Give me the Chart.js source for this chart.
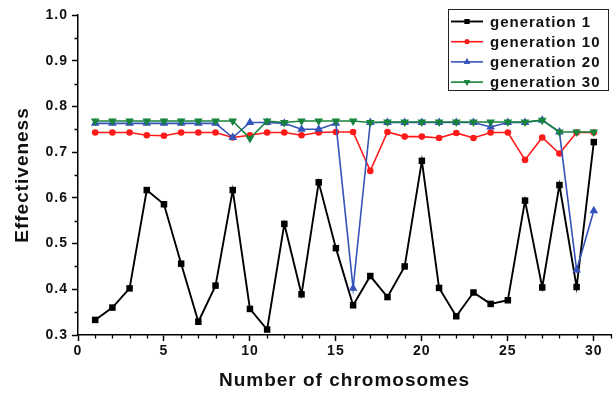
<!DOCTYPE html>
<html>
<head>
<meta charset="utf-8">
<title>Effectiveness vs number of chromosomes</title>
<script src="https://cdn.jsdelivr.net/npm/chart.js@4.4.1/dist/chart.umd.min.js"></script>
<style>
    html, body { margin: 0; padding: 0; background: #fff; }
    #wrap { position: relative; width: 616px; height: 394px; }
</style>
</head>
<body>
<div id="wrap"><canvas id="chart" width="616" height="394"></canvas></div>
<script>
/* ─── data ──────────────────────────────────────────────────── */
const chromosomes = [1, 2, 3, 4, 5, 6, 7, 8, 9, 10, 11, 12, 13, 14, 15,
                     16, 17, 18, 19, 20, 21, 22, 23, 24, 25, 26, 27, 28, 29, 30];

const gen1  = [0.333, 0.360, 0.402, 0.617, 0.586, 0.456, 0.329, 0.408, 0.617, 0.357,
               0.312, 0.543, 0.389, 0.634, 0.490, 0.365, 0.429, 0.383, 0.450, 0.681,
               0.403, 0.341, 0.393, 0.368, 0.376, 0.594, 0.404, 0.628, 0.405, 0.722];
const gen10 = [0.743, 0.743, 0.743, 0.737, 0.736, 0.743, 0.743, 0.743, 0.732, 0.737,
               0.743, 0.743, 0.737, 0.743, 0.744, 0.744, 0.659, 0.744, 0.734, 0.734,
               0.731, 0.742, 0.731, 0.743, 0.743, 0.683, 0.732, 0.697, 0.743, 0.743];
const gen20 = [0.763, 0.763, 0.763, 0.763, 0.763, 0.763, 0.763, 0.763, 0.732, 0.765,
               0.765, 0.763, 0.750, 0.750, 0.763, 0.402, 0.765, 0.765, 0.765, 0.765,
               0.765, 0.765, 0.765, 0.755, 0.765, 0.765, 0.770, 0.744, 0.442, 0.572];
const gen30 = [0.768, 0.768, 0.768, 0.768, 0.768, 0.768, 0.768, 0.768, 0.768, 0.730,
               0.768, 0.765, 0.768, 0.768, 0.768, 0.768, 0.765, 0.766, 0.766, 0.766,
               0.766, 0.766, 0.766, 0.766, 0.766, 0.766, 0.770, 0.744, 0.744, 0.744];

const seriesNames = ['generation 1', 'generation 10', 'generation 20', 'generation 30'];

const xTicks = [0, 5, 10, 15, 20, 25, 30];
const yTicks = [0.3, 0.4, 0.5, 0.6, 0.7, 0.8, 0.9, 1.0];

/* ── styles ──────────────────────────────────────────────────── */
const FONT   = '"Liberation Sans", Arial, sans-serif';
const STYLES = [
    { color: '#000000', point: 'rect',     radius: 4.6, rotation: 0,   width: 1.9 },
    { color: '#ff1a1a', point: 'circle',   radius: 3.3, rotation: 0,   width: 1.6 },
    { color: '#3553b8', point: 'triangle', radius: 5,   rotation: 0,   width: 1.6 },
    { color: '#17833c', point: 'triangle', radius: 5,   rotation: 180, width: 1.6 },
];

const toPoints = (ys) => chromosomes.map((c, i) => ({ x: c, y: ys[i] }));

/* ── plugins ─────────────────────────────────────────────────── */
/* Origin-style text is slightly spaced out */
const spacingPlugin = {
    id: 'spacing',
    beforeUpdate(chart) { chart.ctx.letterSpacing = '1px'; },
    beforeDraw(chart)   { chart.ctx.letterSpacing = '1px'; },
};

/* minor ticks: every integer on x, every 0.05 on y */
const minorTicks = {
    id: 'minorTicks',
    afterDraw(chart) {
        const { ctx, scales: { x, y }, chartArea } = chart;
        ctx.save();
        ctx.strokeStyle = '#000';
        ctx.lineWidth = 1.3;
        ctx.beginPath();
        for (let v = x.min; v <= x.max; v++) {
            if (v % 5 === 0) continue;
            const px = Math.round(x.getPixelForValue(v)) + 0.5;
            ctx.moveTo(px, chartArea.bottom);
            ctx.lineTo(px, chartArea.bottom + 3.5);
        }
        for (let i = 0; i < yTicks.length - 1; i++) {
            const py = Math.round(y.getPixelForValue((yTicks[i] + yTicks[i + 1]) / 2)) + 0.5;
            ctx.moveTo(chartArea.left, py);
            ctx.lineTo(chartArea.left - 3.5, py);
        }
        ctx.stroke();
        ctx.restore();
    },
};

/* boxed legend in the top-right corner */
const boxLegend = {
    id: 'boxLegend',
    afterDraw(chart) {
        const ctx = chart.ctx;
        const box = { x: 448.5, y: 9.5, w: 160, h: 81 };
        ctx.save();
        ctx.letterSpacing = '1px';
        ctx.fillStyle = '#fff';
        ctx.fillRect(box.x, box.y, box.w, box.h);
        ctx.strokeStyle = '#222';
        ctx.lineWidth = 1;
        ctx.strokeRect(box.x, box.y, box.w, box.h);
        seriesNames.forEach((name, i) => {
            const s  = STYLES[i];
            const cy = 21.5 + i * 20.2;
            ctx.strokeStyle = s.color;
            ctx.lineWidth = s.width;
            ctx.beginPath();
            ctx.moveTo(451, cy);
            ctx.lineTo(483, cy);
            ctx.stroke();
            ctx.fillStyle = s.color;
            Chart.helpers.drawPoint(ctx, {
                pointStyle: s.point, radius: s.radius * 0.75, rotation: s.rotation, borderWidth: 0,
            }, 467, cy);
            ctx.fill();
            ctx.fillStyle = '#111';
            ctx.font = `bold 15px ${FONT}`;
            ctx.textAlign = 'left';
            ctx.textBaseline = 'middle';
            ctx.fillText(name, 490, cy + 1);
        });
        ctx.restore();
    },
};

/* ── chart ───────────────────────────────────────────────────── */
const datasets = [gen1, gen10, gen20, gen30].map((ys, i) => ({
    label: seriesNames[i],
    data: toPoints(ys),
    borderColor: STYLES[i].color,
    backgroundColor: STYLES[i].color,
    borderWidth: STYLES[i].width,
    pointStyle: STYLES[i].point,
    pointRadius: STYLES[i].radius,
    pointRotation: STYLES[i].rotation,
    pointBorderWidth: 0,
    tension: 0,
    order: 4 - i,
}));

new Chart(document.getElementById('chart'), {
    type: 'line',
    data: { datasets },
    plugins: [spacingPlugin, minorTicks, boxLegend],
    options: {
        responsive: false,
        animation: false,
        layout: { padding: { top: 15, right: 1, left: 0, bottom: 0 } },
        plugins: {
            legend:  { display: false },
            tooltip: { enabled: false },
        },
        scales: {
            x: {
                type: 'linear',
                min: 0, max: 31,
                afterBuildTicks: (s) => { s.ticks = xTicks.map(v => ({ value: v })); },
                afterFit: (s) => { s.height = 59; },
                border: { color: '#000', width: 1.5 },
                grid: { drawOnChartArea: false, tickLength: 6, tickWidth: 1.5, tickColor: '#000' },
                ticks: {
                    color: '#111', padding: 2, maxRotation: 0, autoSkip: false,
                    font: { family: FONT, size: 14, weight: 'bold' },
                },
                title: {
                    display: true, text: 'Number of chromosomes', color: '#111',
                    font: { family: FONT, size: 19, weight: 'bold' },
                    padding: { top: 0, bottom: 2 },
                },
            },
            y: {
                min: 0.3, max: 1.0,
                afterBuildTicks: (s) => { s.ticks = yTicks.map(v => ({ value: v })); },
                afterFit: (s) => { s.width = 78; },
                border: { color: '#000', width: 1.5 },
                grid: { drawOnChartArea: false, tickLength: 6, tickWidth: 1.5, tickColor: '#000' },
                ticks: {
                    color: '#111', padding: 4,
                    font: { family: FONT, size: 14, weight: 'bold' },
                    callback: (v) => Number(v).toFixed(1),
                },
                title: {
                    display: true, text: 'Effectiveness', color: '#111',
                    font: { family: FONT, size: 19, weight: 'bold' },
                    padding: { top: 11, bottom: 0 },
                },
            },
        },
    },
});
</script>
</body>
</html>
